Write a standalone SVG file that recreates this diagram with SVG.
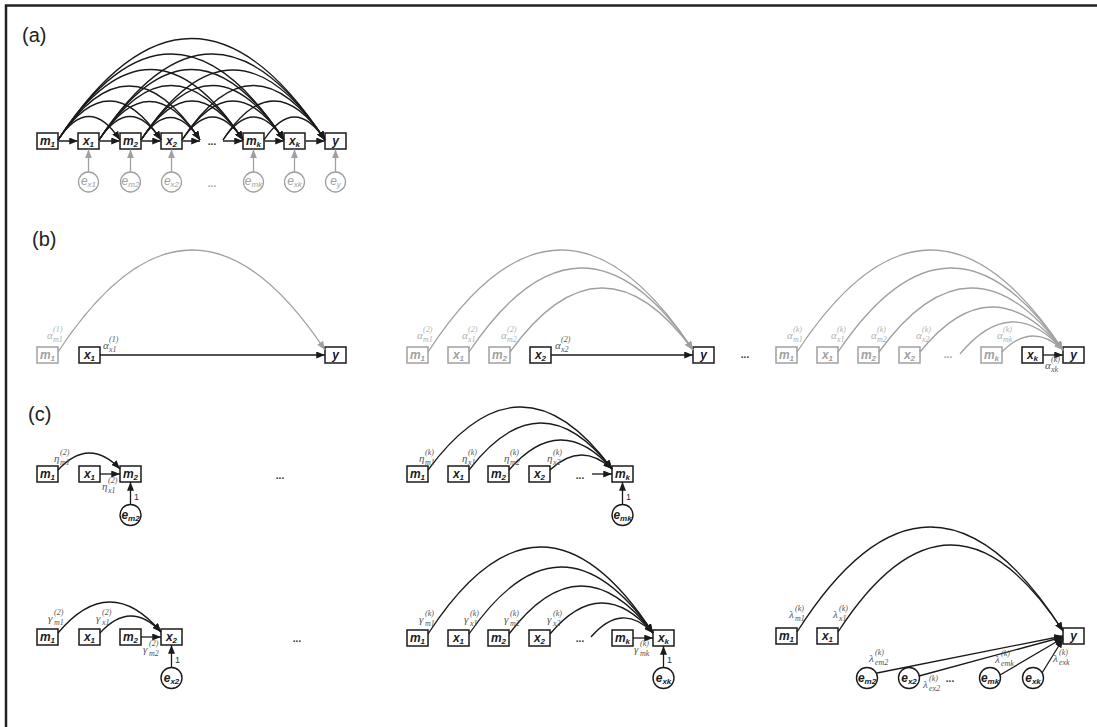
<svg xmlns="http://www.w3.org/2000/svg" width="1097" height="727" viewBox="0 0 1097 727">
<defs>
<style>
.nd{fill:#fff;stroke:#1a1a1a;stroke-width:1.5}
.ndg{fill:#fff;stroke:#a0a0a0;stroke-width:1.5}
.ci{fill:#fff;stroke:#1a1a1a;stroke-width:1.4}
.cig{fill:#fff;stroke:#a0a0a0;stroke-width:1.3}
.t{font-family:"Liberation Sans",Arial,sans-serif;font-weight:bold;font-style:italic;font-size:12px;fill:#1a1a1a;text-anchor:middle}
.tg{fill:#a0a0a0}
.tn{font-weight:normal}
.s{font-size:8px}
.cf{font-family:"Liberation Serif","Times New Roman",serif;font-style:italic;font-size:11px;fill:#555}
.cg{fill:#b0b0b0}
.cs{font-size:8px}
.pl{font-family:"Liberation Sans",Arial,sans-serif;font-size:20px;fill:#222}
.dt{font-family:"Liberation Sans",Arial,sans-serif;font-weight:bold;font-size:10px;fill:#333;text-anchor:middle}
.dg{fill:#a0a0a0}
.one{font-family:"Liberation Sans",Arial,sans-serif;font-size:9px;fill:#333}
.k{fill:none;stroke:#1a1a1a;stroke-width:1.3;marker-end:url(#ah)}
.g{fill:none;stroke:#a0a0a0;stroke-width:1.3;marker-end:url(#ahg)}
.st{fill:none;stroke:#444;stroke-width:1.8;marker-end:url(#ah)}
</style>
<marker id="ah" viewBox="0 0 10 8" refX="10" refY="4" markerWidth="9" markerHeight="7" markerUnits="userSpaceOnUse" orient="auto"><path d="M0,0L10,4L0,8z" fill="#1a1a1a"/></marker>
<marker id="ahg" viewBox="0 0 10 8" refX="10" refY="4" markerWidth="9" markerHeight="7" markerUnits="userSpaceOnUse" orient="auto"><path d="M0,0L10,4L0,8z" fill="#a0a0a0"/></marker>
</defs>
<rect width="1097" height="727" fill="#fff"/>
<path d="M6,727V5.5H1097" fill="none" stroke="#222" stroke-width="2.5"/>

<g id="panel-labels">
<text class="pl" x="22" y="42">(a)</text>
<text class="pl" x="32" y="246">(b)</text>
<text class="pl" x="28" y="421">(c)</text>
</g>

<!-- Panel (a) nodes -->
<g id="a-m1"><rect class="nd" x="37" y="133" width="21" height="16"/><text class="t" x="47.5" y="145">m<tspan class="s" dy="2">1</tspan></text></g>
<g id="a-x1"><rect class="nd" x="78" y="133" width="21" height="16"/><text class="t" x="88.5" y="145">x<tspan class="s" dy="2">1</tspan></text></g>
<g id="a-m2"><rect class="nd" x="120" y="133" width="21" height="16"/><text class="t" x="130.5" y="145">m<tspan class="s" dy="2">2</tspan></text></g>
<g id="a-x2"><rect class="nd" x="161" y="133" width="21" height="16"/><text class="t" x="171.5" y="145">x<tspan class="s" dy="2">2</tspan></text></g>
<g id="a-dots"><text class="dt" x="212" y="145">...</text></g>
<g id="a-mk"><rect class="nd" x="243" y="133" width="21" height="16"/><text class="t" x="253.5" y="145">m<tspan class="s" dy="2">k</tspan></text></g>
<g id="a-xk"><rect class="nd" x="284" y="133" width="21" height="16"/><text class="t" x="294.5" y="145">x<tspan class="s" dy="2">k</tspan></text></g>
<g id="a-y"><rect class="nd" x="325" y="133" width="21" height="16"/><text class="t" x="335.5" y="145">y</text></g>
<g id="a-ex1"><circle class="cig" cx="88.5" cy="182" r="10"/><text class="t tg tn" x="88.5" y="185">e<tspan class="s" dy="2">x1</tspan></text></g>
<g id="a-em2"><circle class="cig" cx="130.5" cy="182" r="10"/><text class="t tg tn" x="130.5" y="185">e<tspan class="s" dy="2">m2</tspan></text></g>
<g id="a-ex2"><circle class="cig" cx="171.5" cy="182" r="10"/><text class="t tg tn" x="171.5" y="185">e<tspan class="s" dy="2">x2</tspan></text></g>
<g id="a-edots"><text class="dt dg" x="212" y="187">...</text></g>
<g id="a-emk"><circle class="cig" cx="253.5" cy="182" r="10"/><text class="t tg tn" x="253.5" y="185">e<tspan class="s" dy="2">mk</tspan></text></g>
<g id="a-exk"><circle class="cig" cx="294.5" cy="182" r="10"/><text class="t tg tn" x="294.5" y="185">e<tspan class="s" dy="2">xk</tspan></text></g>
<g id="a-ey"><circle class="cig" cx="335.5" cy="182" r="10"/><text class="t tg tn" x="335.5" y="185">e<tspan class="s" dy="2">y</tspan></text></g>

<!-- Panel (b) nodes -->
<g id="b1-m1"><rect class="ndg" x="37" y="347" width="21" height="16"/><text class="t tg" x="47.5" y="359">m<tspan class="s" dy="2">1</tspan></text></g>
<g id="b1-x1"><rect class="nd" x="79" y="347" width="21" height="16"/><text class="t" x="89.5" y="359">x<tspan class="s" dy="2">1</tspan></text></g>
<g id="b1-y"><rect class="nd" x="325" y="347" width="21" height="16"/><text class="t" x="335.5" y="359">y</text></g>

<g id="b2-m1"><rect class="ndg" x="407" y="347" width="21" height="16"/><text class="t tg" x="417.5" y="359">m<tspan class="s" dy="2">1</tspan></text></g>
<g id="b2-x1"><rect class="ndg" x="448" y="347" width="21" height="16"/><text class="t tg" x="458.5" y="359">x<tspan class="s" dy="2">1</tspan></text></g>
<g id="b2-m2"><rect class="ndg" x="489" y="347" width="21" height="16"/><text class="t tg" x="499.5" y="359">m<tspan class="s" dy="2">2</tspan></text></g>
<g id="b2-x2"><rect class="nd" x="530" y="347" width="21" height="16"/><text class="t" x="540.5" y="359">x<tspan class="s" dy="2">2</tspan></text></g>
<g id="b2-y"><rect class="nd" x="693" y="347" width="21" height="16"/><text class="t" x="703.5" y="359">y</text></g>
<g id="b-dots"><text class="dt" x="745" y="358">...</text></g>

<g id="b3-m1"><rect class="ndg" x="776" y="347" width="21" height="16"/><text class="t tg" x="786.5" y="359">m<tspan class="s" dy="2">1</tspan></text></g>
<g id="b3-x1"><rect class="ndg" x="817" y="347" width="21" height="16"/><text class="t tg" x="827.5" y="359">x<tspan class="s" dy="2">1</tspan></text></g>
<g id="b3-m2"><rect class="ndg" x="858" y="347" width="21" height="16"/><text class="t tg" x="868.5" y="359">m<tspan class="s" dy="2">2</tspan></text></g>
<g id="b3-x2"><rect class="ndg" x="899" y="347" width="21" height="16"/><text class="t tg" x="909.5" y="359">x<tspan class="s" dy="2">2</tspan></text></g>
<g id="b3-dots"><text class="dt dg" x="948" y="358">...</text></g>
<g id="b3-mk"><rect class="ndg" x="981" y="347" width="21" height="16"/><text class="t tg" x="991.5" y="359">m<tspan class="s" dy="2">k</tspan></text></g>
<g id="b3-xk"><rect class="nd" x="1022" y="347" width="21" height="16"/><text class="t" x="1032.5" y="359">x<tspan class="s" dy="2">k</tspan></text></g>
<g id="b3-y"><rect class="nd" x="1063" y="347" width="21" height="16"/><text class="t" x="1073.5" y="359">y</text></g>

<!-- Panel (c) top-left -->
<g id="c1-m1"><rect class="nd" x="37" y="466" width="21" height="16"/><text class="t" x="47.5" y="478">m<tspan class="s" dy="2">1</tspan></text></g>
<g id="c1-x1"><rect class="nd" x="79" y="466" width="21" height="16"/><text class="t" x="89.5" y="478">x<tspan class="s" dy="2">1</tspan></text></g>
<g id="c1-m2"><rect class="nd" x="120" y="466" width="21" height="16"/><text class="t" x="130.5" y="478">m<tspan class="s" dy="2">2</tspan></text></g>
<g id="c1-em2"><circle class="ci" cx="130.5" cy="515" r="10.5"/><text class="t" x="130.5" y="519">e<tspan class="s" dy="2">m2</tspan></text></g>
<g id="c1-dots"><text class="dt" x="280" y="479">...</text></g>

<!-- Panel (c) top-middle -->
<g id="c2-m1"><rect class="nd" x="407" y="466" width="21" height="16"/><text class="t" x="417.5" y="478">m<tspan class="s" dy="2">1</tspan></text></g>
<g id="c2-x1"><rect class="nd" x="448" y="466" width="21" height="16"/><text class="t" x="458.5" y="478">x<tspan class="s" dy="2">1</tspan></text></g>
<g id="c2-m2"><rect class="nd" x="488" y="466" width="21" height="16"/><text class="t" x="498.5" y="478">m<tspan class="s" dy="2">2</tspan></text></g>
<g id="c2-x2"><rect class="nd" x="529" y="466" width="21" height="16"/><text class="t" x="539.5" y="478">x<tspan class="s" dy="2">2</tspan></text></g>
<g id="c2-dots"><text class="dt" x="580" y="479">...</text></g>
<g id="c2-mk"><rect class="nd" x="612" y="466" width="21" height="16"/><text class="t" x="622.5" y="478">m<tspan class="s" dy="2">k</tspan></text></g>
<g id="c2-emk"><circle class="ci" cx="622.5" cy="515" r="10.5"/><text class="t" x="622.5" y="519">e<tspan class="s" dy="2">mk</tspan></text></g>

<!-- Panel (c) bottom-left -->
<g id="c3-m1"><rect class="nd" x="37" y="629" width="21" height="16"/><text class="t" x="47.5" y="641">m<tspan class="s" dy="2">1</tspan></text></g>
<g id="c3-x1"><rect class="nd" x="79" y="629" width="21" height="16"/><text class="t" x="89.5" y="641">x<tspan class="s" dy="2">1</tspan></text></g>
<g id="c3-m2"><rect class="nd" x="120" y="629" width="21" height="16"/><text class="t" x="130.5" y="641">m<tspan class="s" dy="2">2</tspan></text></g>
<g id="c3-x2"><rect class="nd" x="161" y="629" width="21" height="16"/><text class="t" x="171.5" y="641">x<tspan class="s" dy="2">2</tspan></text></g>
<g id="c3-ex2"><circle class="ci" cx="171.5" cy="678" r="10.5"/><text class="t" x="171.5" y="682">e<tspan class="s" dy="2">x2</tspan></text></g>
<g id="c3-dots"><text class="dt" x="297" y="642">...</text></g>

<!-- Panel (c) bottom-middle -->
<g id="c4-m1"><rect class="nd" x="407" y="630" width="21" height="16"/><text class="t" x="417.5" y="642">m<tspan class="s" dy="2">1</tspan></text></g>
<g id="c4-x1"><rect class="nd" x="448" y="630" width="21" height="16"/><text class="t" x="458.5" y="642">x<tspan class="s" dy="2">1</tspan></text></g>
<g id="c4-m2"><rect class="nd" x="488" y="630" width="21" height="16"/><text class="t" x="498.5" y="642">m<tspan class="s" dy="2">2</tspan></text></g>
<g id="c4-x2"><rect class="nd" x="529" y="630" width="21" height="16"/><text class="t" x="539.5" y="642">x<tspan class="s" dy="2">2</tspan></text></g>
<g id="c4-dots"><text class="dt" x="580" y="642">...</text></g>
<g id="c4-mk"><rect class="nd" x="612" y="630" width="21" height="16"/><text class="t" x="622.5" y="642">m<tspan class="s" dy="2">k</tspan></text></g>
<g id="c4-xk"><rect class="nd" x="653" y="630" width="21" height="16"/><text class="t" x="663.5" y="642">x<tspan class="s" dy="2">k</tspan></text></g>
<g id="c4-exk"><circle class="ci" cx="663.5" cy="678" r="10.5"/><text class="t" x="663.5" y="682">e<tspan class="s" dy="2">xk</tspan></text></g>

<!-- Panel (c) bottom-right -->
<g id="c5-m1"><rect class="nd" x="776" y="628" width="21" height="16"/><text class="t" x="786.5" y="640">m<tspan class="s" dy="2">1</tspan></text></g>
<g id="c5-x1"><rect class="nd" x="817" y="628" width="21" height="16"/><text class="t" x="827.5" y="640">x<tspan class="s" dy="2">1</tspan></text></g>
<g id="c5-y"><rect class="nd" x="1063" y="628" width="21" height="16"/><text class="t" x="1073.5" y="640">y</text></g>
<g id="c5-em2"><circle class="ci" cx="867" cy="678" r="10.5"/><text class="t" x="867" y="682">e<tspan class="s" dy="2">m2</tspan></text></g>
<g id="c5-ex2"><circle class="ci" cx="909" cy="678" r="10.5"/><text class="t" x="909" y="682">e<tspan class="s" dy="2">x2</tspan></text></g>
<g id="c5-dots"><text class="dt" x="950" y="682">...</text></g>
<g id="c5-emk"><circle class="ci" cx="990" cy="678" r="10.5"/><text class="t" x="990" y="682">e<tspan class="s" dy="2">mk</tspan></text></g>
<g id="c5-exk"><circle class="ci" cx="1033" cy="678" r="10.5"/><text class="t" x="1033" y="682">e<tspan class="s" dy="2">xk</tspan></text></g>

<g id="connectors">
<path class="st" d="M58,141L78,141"/>
<path class="st" d="M99,141L120,141"/>
<path class="st" d="M141,141L161,141"/>
<path class="st" d="M182,141L200,141"/>
<path class="st" d="M223,141L243,141"/>
<path class="st" d="M264,141L284,141"/>
<path class="st" d="M305,141L325,141"/>
<path class="k" d="M58,140Q89,93 120,140"/>
<path class="k" d="M58,140Q109.5,62 161,140"/>
<path class="k" d="M58,140Q129,32 200,140"/>
<path class="k" d="M58,140Q150.5,-1 243,140"/>
<path class="k" d="M58,140Q171,-32 284,140"/>
<path class="k" d="M58,140Q191.5,-63 325,140"/>
<path class="k" d="M99,140Q130,93 161,140"/>
<path class="k" d="M99,140Q149.5,63 200,140"/>
<path class="k" d="M99,140Q171,31 243,140"/>
<path class="k" d="M99,140Q191.5,-1 284,140"/>
<path class="k" d="M99,140Q212,-32 325,140"/>
<path class="k" d="M141,140Q170.5,95 200,140"/>
<path class="k" d="M141,140Q192,62 243,140"/>
<path class="k" d="M141,140Q212.5,31 284,140"/>
<path class="k" d="M141,140Q233,0 325,140"/>
<path class="k" d="M182,140Q212.5,94 243,140"/>
<path class="k" d="M182,140Q233,62 284,140"/>
<path class="k" d="M182,140Q253.5,31 325,140"/>
<path class="k" d="M223,140Q253.5,94 284,140"/>
<path class="k" d="M223,140Q274,62 325,140"/>
<path class="k" d="M264,140Q294.5,94 325,140"/>
<path class="g" d="M88.5,172V149.5"/>
<path class="g" d="M130.5,172V149.5"/>
<path class="g" d="M171.5,172V149.5"/>
<path class="g" d="M253.5,172V149.5"/>
<path class="g" d="M294.5,172V149.5"/>
<path class="g" d="M335.5,172V149.5"/>
<path class="g" d="M58,352Q191.5,149 325,350"/>
<path class="k" d="M100,355L325,355"/>
<path class="g" d="M428,352Q560.5,149 693,350"/>
<path class="g" d="M469,352Q581,185 693,350"/>
<path class="g" d="M510,352Q601.5,225 693,350"/>
<path class="k" d="M551,355L693,355"/>
<path class="g" d="M797,352Q930,149 1063,350"/>
<path class="g" d="M838,352Q950.5,185 1063,350"/>
<path class="g" d="M879,352Q971,225 1063,350"/>
<path class="g" d="M920,352Q991.5,263 1063,350"/>
<path class="g" d="M960,354Q1011.5,292 1063,350"/>
<path class="g" d="M1002,352Q1032.5,321 1063,350"/>
<path class="k" d="M1043,355L1063,355"/>
<path class="k" d="M58,470Q89,436.5 120,469"/>
<path class="k" d="M100,474L120,474"/>
<path class="k" d="M130.5,504.5V482"/>
<path class="k" d="M428,470Q520.5,344.5 612,469"/>
<path class="k" d="M469,470Q540.5,376.5 612,469"/>
<path class="k" d="M509,470Q560.5,410.5 612,469"/>
<path class="k" d="M550,470Q581,440.5 612,469"/>
<path class="k" d="M592,474L612,474"/>
<path class="k" d="M622.5,504.5V482"/>
<path class="k" d="M58,633Q109.5,571.5 161,632"/>
<path class="k" d="M100,633Q130.5,599.5 161,632"/>
<path class="k" d="M141,637L161,637"/>
<path class="k" d="M171.5,667.5V645"/>
<path class="k" d="M428,634Q540.5,460.5 653,633"/>
<path class="k" d="M469,634Q561,500.5 653,633"/>
<path class="k" d="M509,634Q581,538.5 653,633"/>
<path class="k" d="M550,634Q601.5,572.5 653,633"/>
<path class="k" d="M591,637Q622,601 653,633"/>
<path class="k" d="M633,638L653,638"/>
<path class="k" d="M663.5,667.5V646"/>
<path class="k" d="M797,632Q930,422.5 1063,631"/>
<path class="k" d="M838,632Q950.5,458.5 1063,631"/>
<path class="k" d="M877,673L1063,636"/>
<path class="k" d="M919,676L1063,637"/>
<path class="k" d="M1000,675L1063,638"/>
<path class="k" d="M1042,673L1063,639"/>
</g>

<g id="coefficients">
<text class="cf cg" x="47" y="339">α<tspan class="cs" x="53" y="332">(1)</tspan><tspan class="cs" x="53" y="342">m1</tspan></text>
<text class="cf" x="103" y="349">α<tspan class="cs" x="109" y="342">(1)</tspan><tspan class="cs" x="109" y="352">x1</tspan></text>
<text class="cf cg" x="417" y="339">α<tspan class="cs" x="423" y="332">(2)</tspan><tspan class="cs" x="423" y="342">m1</tspan></text>
<text class="cf cg" x="462" y="339">α<tspan class="cs" x="468" y="332">(2)</tspan><tspan class="cs" x="468" y="342">x1</tspan></text>
<text class="cf cg" x="501" y="339">α<tspan class="cs" x="507" y="332">(2)</tspan><tspan class="cs" x="507" y="342">m2</tspan></text>
<text class="cf" x="555" y="349">α<tspan class="cs" x="561" y="342">(2)</tspan><tspan class="cs" x="561" y="352">x2</tspan></text>
<text class="cf cg" x="787" y="339">α<tspan class="cs" x="793" y="332">(k)</tspan><tspan class="cs" x="793" y="342">m1</tspan></text>
<text class="cf cg" x="831" y="339">α<tspan class="cs" x="837" y="332">(k)</tspan><tspan class="cs" x="837" y="342">x1</tspan></text>
<text class="cf cg" x="871" y="339">α<tspan class="cs" x="877" y="332">(k)</tspan><tspan class="cs" x="877" y="342">m2</tspan></text>
<text class="cf cg" x="916" y="339">α<tspan class="cs" x="922" y="332">(k)</tspan><tspan class="cs" x="922" y="342">x2</tspan></text>
<text class="cf cg" x="997" y="339">α<tspan class="cs" x="1003" y="332">(k)</tspan><tspan class="cs" x="1003" y="342">mk</tspan></text>
<text class="cf" x="1045" y="369">α<tspan class="cs" x="1051" y="362">(k)</tspan><tspan class="cs" x="1051" y="372">xk</tspan></text>

<text class="cf" x="54" y="462">η<tspan class="cs" x="60" y="455">(2)</tspan><tspan class="cs" x="60" y="465">m1</tspan></text>
<text class="cf" x="102" y="490">η<tspan class="cs" x="108" y="483">(2)</tspan><tspan class="cs" x="108" y="493">x1</tspan></text>
<text class="cf" x="419" y="462">η<tspan class="cs" x="425" y="455">(k)</tspan><tspan class="cs" x="425" y="465">m1</tspan></text>
<text class="cf" x="462" y="462">η<tspan class="cs" x="468" y="455">(k)</tspan><tspan class="cs" x="468" y="465">x1</tspan></text>
<text class="cf" x="504" y="462">η<tspan class="cs" x="510" y="455">(k)</tspan><tspan class="cs" x="510" y="465">m2</tspan></text>
<text class="cf" x="547" y="462">η<tspan class="cs" x="553" y="455">(k)</tspan><tspan class="cs" x="553" y="465">x2</tspan></text>

<text class="cf" x="48" y="622">γ<tspan class="cs" x="54" y="615">(2)</tspan><tspan class="cs" x="54" y="625">m1</tspan></text>
<text class="cf" x="96" y="622">γ<tspan class="cs" x="102" y="615">(2)</tspan><tspan class="cs" x="102" y="625">x1</tspan></text>
<text class="cf" x="143" y="653">γ<tspan class="cs" x="149" y="646">(2)</tspan><tspan class="cs" x="149" y="656">m2</tspan></text>
<text class="cf" x="419" y="623">γ<tspan class="cs" x="425" y="616">(k)</tspan><tspan class="cs" x="425" y="626">m1</tspan></text>
<text class="cf" x="464" y="623">γ<tspan class="cs" x="470" y="616">(k)</tspan><tspan class="cs" x="470" y="626">x1</tspan></text>
<text class="cf" x="504" y="623">γ<tspan class="cs" x="510" y="616">(k)</tspan><tspan class="cs" x="510" y="626">m2</tspan></text>
<text class="cf" x="547" y="623">γ<tspan class="cs" x="553" y="616">(k)</tspan><tspan class="cs" x="553" y="626">x2</tspan></text>
<text class="cf" x="634" y="653">γ<tspan class="cs" x="640" y="646">(k)</tspan><tspan class="cs" x="640" y="656">mk</tspan></text>

<text class="cf" x="789" y="618">λ<tspan class="cs" x="795" y="611">(k)</tspan><tspan class="cs" x="795" y="621">m1</tspan></text>
<text class="cf" x="833" y="618">λ<tspan class="cs" x="839" y="611">(k)</tspan><tspan class="cs" x="839" y="621">x1</tspan></text>
<text class="cf" x="869" y="662">λ<tspan class="cs" x="875" y="655">(k)</tspan><tspan class="cs" x="875" y="665">em2</tspan></text>
<text class="cf" x="923" y="688">λ<tspan class="cs" x="929" y="681">(k)</tspan><tspan class="cs" x="929" y="691">ex2</tspan></text>
<text class="cf" x="995" y="663">λ<tspan class="cs" x="1001" y="656">(k)</tspan><tspan class="cs" x="1001" y="666">emk</tspan></text>
<text class="cf" x="1053" y="662">λ<tspan class="cs" x="1059" y="655">(k)</tspan><tspan class="cs" x="1059" y="665">exk</tspan></text>

<text class="one" x="134" y="500">1</text>
<text class="one" x="626" y="500">1</text>
<text class="one" x="175" y="663">1</text>
<text class="one" x="667" y="663">1</text>
</g>
</svg>
